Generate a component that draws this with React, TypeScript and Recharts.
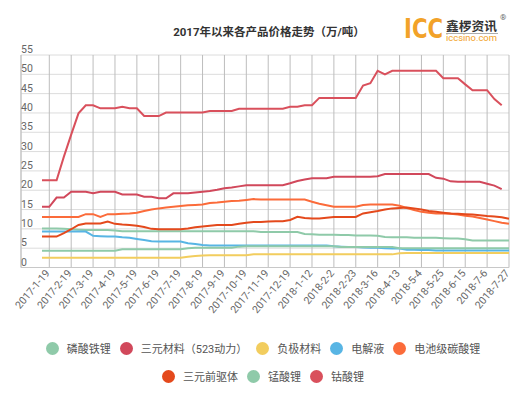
import { LineChart, Line, XAxis, YAxis, CartesianGrid, Legend } from "recharts";

// tick labels on the x axis; one label every 3 data points, starting at point 1
const labelDates = [
  "2017-1-19", "2017-2-19", "2017-3-19", "2017-4-19", "2017-5-19", "2017-6-19",
  "2017-7-19", "2017-8-19", "2017-9-19", "2017-10-19", "2017-11-19", "2017-12-19",
  "2018-1-12", "2018-2-2", "2018-2-23", "2018-3-16", "2018-4-13", "2018-5-4",
  "2018-5-25", "2018-6-15", "2018-7-6", "2018-7-27",
];
const POINTS_PER_LABEL = 3;
const labelIndex = labelDates.map((_, k) => 1 + k * POINTS_PER_LABEL);

const yTicks = [0, 5, 10, 15, 20, 25, 30, 35, 40, 45, 50, 55];

// prices (万/吨), one value per data point
const lfp = [
  10.1, 10.1, 10.1, 10.0, 9.9, 9.8, 9.7, 9.7, 9.7, 9.7,
  9.6, 9.4, 9.4, 9.4, 9.4, 9.4, 9.4, 9.4, 9.4, 9.4,
  9.4, 9.4, 9.4, 9.4, 9.4, 9.4, 9.4, 9.4, 9.4, 9.4,
  9.2, 9.2, 9.2, 9.2, 9.2, 9.2, 8.7, 8.6, 8.5, 8.5,
  8.5, 8.4, 8.4, 8.3, 8.3, 8.3, 8.2, 7.9, 7.8, 7.8,
  7.8, 7.7, 7.7, 7.7, 7.7, 7.6, 7.5, 7.5, 7.3, 7.0,
  7.0, 7.0, 7.0, 7.0, 7.0,
];

const ncm523 = [
  15.7, 15.7, 18.1, 18.1, 19.6, 19.6, 19.6, 19.2, 19.6, 19.6,
  19.6, 18.9, 18.9, 18.9, 18.3, 18.3, 17.9, 17.9, 19.2, 19.2,
  19.2, 19.4, 19.6, 19.8, 20.1, 20.5, 20.7, 21.0, 21.3, 21.3,
  21.3, 21.3, 21.3, 21.3, 21.8, 22.4, 22.8, 23.1, 23.1, 23.1,
  23.5, 23.5, 23.5, 23.5, 23.5, 23.5, 23.6, 24.2, 24.2, 24.2,
  24.2, 24.2, 24.2, 24.2, 23.2, 23.0, 22.3, 22.2, 22.2, 22.2,
  22.2, 21.7, 21.2, 20.3, null,
];

const anode = [
  2.5, 2.5, 2.5, 2.5, 2.5, 2.5, 2.5, 2.5, 2.5, 2.5,
  2.5, 2.5, 2.5, 2.5, 2.5, 2.5, 2.5, 2.5, 2.5, 2.5,
  2.8, 3.0, 3.1, 3.15, 3.15, 3.15, 3.15, 3.15, 3.15, 3.4,
  3.4, 3.4, 3.4, 3.4, 3.4, 3.4, 3.4, 3.4, 3.4, 3.4,
  3.4, 3.4, 3.4, 3.4, 3.4, 3.4, 3.4, 3.4, 3.4, 3.7,
  3.75, 3.75, 3.75, 3.75, 3.75, 3.75, 3.75, 3.75, 3.75, 3.75,
  3.75, 3.75, 3.75, 3.75, 3.75,
];

const electrolyte = [
  9.3, 9.3, 9.3, 9.3, 9.3, 9.3, 9.3, 8.2, 8.1, 8.0,
  8.0, 7.8, 7.7, 7.4, 7.1, 6.8, 6.7, 6.7, 6.7, 6.7,
  6.3, 6.1, 5.8, 5.7, 5.7, 5.7, 5.7, 5.7, 5.7, 5.7,
  5.7, 5.7, 5.7, 5.7, 5.7, 5.7, 5.7, 5.7, 5.7, 5.7,
  5.5, 5.4, 5.3, 5.3, 5.2, 5.1, 5.1, 5.0, 4.9, 4.9,
  4.6, 4.6, 4.5, 4.5, 4.4, 4.4, 4.4, 4.4, 4.4, 4.4,
  4.4, 4.4, 4.4, 4.4, 4.4,
];

const li2co3 = [
  13.1, 13.1, 13.1, 13.1, 13.1, 13.1, 13.8, 13.8, 13.1, 13.8,
  13.8, 13.9, 14.0, 14.2, 14.6, 15.0, 15.3, 15.5, 15.7, 15.9,
  16.1, 16.2, 16.3, 16.7, 16.8, 17.0, 17.2, 17.3, 17.5, 17.7,
  17.6, 17.6, 17.6, 17.6, 17.6, 17.6, 17.6, 17.0, 16.5, 16.1,
  15.7, 15.7, 15.7, 15.7, 16.2, 16.3, 16.3, 16.3, 16.3, 16.0,
  15.4, 14.9, 14.4, 14.2, 14.0, 14.0, 13.9, 13.7, 13.4, 13.2,
  12.8, 12.4, 12.0, 11.6, 11.3,
];

const precursor = [
  8.0, 8.0, 8.0, 8.9, 9.9, 11.0, 11.4, 11.4, 11.4, 11.9,
  11.3, 11.1, 11.0, 10.8, 10.5, 10.0, 9.9, 9.9, 9.9, 9.9,
  10.1, 10.4, 10.6, 10.8, 11.0, 11.0, 11.0, 11.3, 11.6, 11.8,
  11.8, 11.9, 12.0, 12.0, 12.3, 13.1, 12.8, 12.7, 12.7, 12.9,
  13.1, 13.1, 13.1, 13.1, 14.0, 14.3, 14.6, 15.0, 15.3, 15.4,
  15.5, 15.3, 15.0, 14.6, 14.4, 14.2, 14.0, 13.9, 13.8, 13.7,
  13.5, 13.3, 13.2, 13.0, 12.6,
];

const lmo = [
  4.35, 4.35, 4.35, 4.35, 4.35, 4.35, 4.35, 4.35, 4.35, 4.35,
  4.35, 4.7, 4.7, 4.7, 4.7, 4.7, 4.7, 4.7, 4.7, 4.7,
  5.0, 5.1, 5.1, 5.1, 5.1, 5.1, 5.1, 5.4, 5.5, 5.5,
  5.5, 5.5, 5.5, 5.5, 5.5, 5.5, 5.5, 5.5, 5.5, 5.5,
  5.5, 5.3, 5.3, 5.3, 5.3, 5.3, 5.3, 5.3, 5.3, 5.0,
  5.0, 5.0, 5.0, 5.0, 5.0, 5.0, 5.0, 5.0, 5.0, 5.0,
  5.0, 5.0, 5.0, 5.0, 5.0,
];

const licoo2 = [
  22.6, 22.6, 22.6, 28.7, 34.4, 39.9, 42.0, 42.0, 41.2, 41.2,
  41.2, 41.6, 41.2, 41.2, 39.2, 39.2, 39.2, 40.1, 40.1, 40.1,
  40.1, 40.1, 40.1, 40.5, 40.5, 40.5, 40.5, 41.1, 41.1, 41.1,
  41.1, 41.1, 41.1, 41.1, 41.6, 41.6, 42.0, 42.0, 43.9, 43.9,
  43.9, 43.9, 43.9, 43.9, 47.1, 47.7, 50.9, 50.0, 50.9, 50.9,
  50.9, 50.9, 50.9, 50.9, 50.9, 49.0, 49.0, 49.0, 47.4, 45.9,
  45.9, 45.9, 43.6, 42.0, null,
];

const series = [
  { key: "lfp", name: "磷酸铁锂", color: "#8fcaa9", values: lfp },
  { key: "ncm523", name: "三元材料（523动力）", color: "#d1485b", values: ncm523 },
  { key: "anode", name: "负极材料", color: "#f2cd5e", values: anode },
  { key: "electrolyte", name: "电解液", color: "#58b5e4", values: electrolyte },
  { key: "li2co3", name: "电池级碳酸锂", color: "#fb6b3a", values: li2co3 },
  { key: "precursor", name: "三元前驱体", color: "#e4491c", values: precursor },
  { key: "lmo", name: "锰酸锂", color: "#8fcaa9", values: lmo },
  { key: "licoo2", name: "钴酸锂", color: "#d9505c", values: licoo2 },
];

const rows = lfp.map((_, i) => {
  const row: Record<string, number | null> = { idx: i };
  series.forEach((s) => (row[s.key] = s.values[i]));
  return row;
});

const FONT = "Roboto, 'Noto Sans CJK SC', sans-serif";
const PLOT_LEFT = 21;

const XTick = ({ x, y, payload }: any) => {
  const k = labelIndex.indexOf(payload.value);
  return (
    <text
      transform={`translate(${x + 1},${y + 6}) rotate(-50)`}
      textAnchor="end"
      fontSize={10.5}
      fill="#666"
    >
      {labelDates[k]}
    </text>
  );
};

const YTick = ({ y, payload }: any) => (
  <text x={PLOT_LEFT} y={y - 2} fontSize={10.5} fill="#666">
    {payload.value}
  </text>
);

const legendRows = [series.slice(0, 5), series.slice(5)];

const LegendBox = () => (
  <div>
    {legendRows.map((row, r) => (
      <div
        key={r}
        style={{ display: "flex", justifyContent: "center", alignItems: "center", height: 28 }}
      >
        {row.map((s) => (
          <div key={s.key} style={{ display: "flex", alignItems: "center", margin: "0 4.5px" }}>
            <span
              style={{
                display: "inline-block",
                width: 13,
                height: 13,
                borderRadius: "50%",
                background: s.color,
                marginRight: 8,
              }}
            />
            <span style={{ fontSize: 11, color: "#555" }}>{s.name}</span>
          </div>
        ))}
      </div>
    ))}
  </div>
);

const App = () => (
  <div
    style={{
      position: "absolute",
      left: 0,
      top: 0,
      width: 526,
      height: 394,
      background: "#fff",
      fontFamily: FONT,
    }}
  >
    <LineChart
      width={526}
      height={394}
      data={rows}
      margin={{ top: 55, right: 17, left: PLOT_LEFT - 1, bottom: 0 }}
    >
      <CartesianGrid vertical={false} stroke="#dcdcdc" />
      <CartesianGrid horizontal={false} stroke="#bdbdbd" />
      <XAxis
        type="number"
        dataKey="idx"
        domain={[0, 64]}
        ticks={labelIndex}
        interval={0}
        padding={{ left: 21, right: 0 }}
        tick={<XTick />}
        tickLine={false}
        tickSize={0}
        tickMargin={0}
        axisLine={{ stroke: "#c8c8c8" }}
        height={68.5}
      />
      <YAxis
        domain={[0, 55]}
        ticks={yTicks}
        interval={0}
        width={1}
        tick={<YTick />}
        tickLine={false}
        axisLine={{ stroke: "#c8c8c8" }}
      />
      <Legend
        verticalAlign="bottom"
        content={<LegendBox />}
        wrapperStyle={{ left: 0, width: 526, bottom: 2, height: 58 }}
      />
      {series.map((s) => (
        <Line
          key={s.key}
          type="linear"
          dataKey={s.key}
          name={s.name}
          stroke={s.color}
          strokeWidth={2}
          dot={false}
          activeDot={false}
          isAnimationActive={false}
        />
      ))}
    </LineChart>
    <svg
      width={526}
      height={50}
      style={{ position: "absolute", left: 0, top: 0, pointerEvents: "none" }}
    >
      <text x={269} y={36} textAnchor="middle" fontSize={11.5} fontWeight="bold" fill="#333">
        2017年以来各产品价格走势（万/吨）
      </text>
      <text
        x={404}
        y={38}
        fontSize={27}
        fontWeight="bold"
        fill="#f2a229"
        fontFamily="'DejaVu Sans Condensed', 'DejaVu Sans', sans-serif"
        textLength={39}
        lengthAdjust="spacingAndGlyphs"
      >
        ICC
      </text>
      <text x={446} y={31} fontSize={12.5} fontWeight="bold" fill="#333" textLength={51} lengthAdjust="spacingAndGlyphs">
        鑫椤资讯
      </text>
      <line x1={446} y1={33.5} x2={498} y2={33.5} stroke="#888" strokeWidth={0.7} />
      <text x={446} y={40.5} fontSize={8.5} fill="#f2a229" textLength={51} lengthAdjust="spacingAndGlyphs">
        iccsino.com
      </text>
      <text x={500} y={20} fontSize={8} fill="#666">
        ®
      </text>
    </svg>
  </div>
);

export default App;
